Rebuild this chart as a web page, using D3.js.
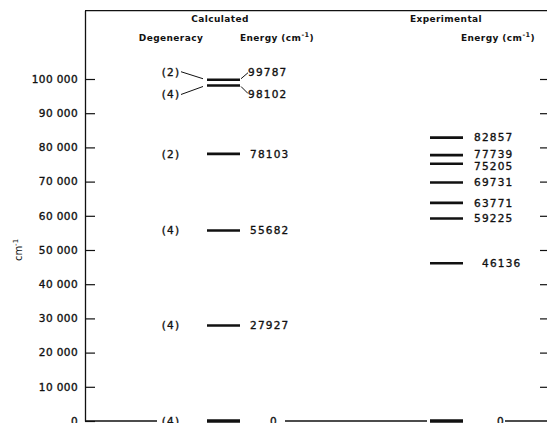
<!DOCTYPE html>
<html>
<head>
<script src="https://d3js.org/d3.v7.min.js"></script>
<style>
  body { margin: 0; background: #fff; }
  svg text { font-family: "DejaVu Sans", sans-serif; fill: #111; }
  .head { font-size: 9px; font-weight: bold; letter-spacing: 0.4px; }
  .num { font-size: 10.5px; letter-spacing: 1.2px; stroke: #111; stroke-width: 0.35px; }
  .tick text { font-size: 10.5px; letter-spacing: 0.4px; stroke: #111; stroke-width: 0.35px; }
</style>
</head>
<body>
<svg id="chart" width="547" height="423"></svg>
<script>
// levels (cm^-1)
var tickValues = [0, 10000, 20000, 30000, 40000, 50000, 60000, 70000, 80000, 90000, 100000];
var calcEnergy = [0, 27927, 55682, 78103, 98102, 99787];
var calcDegeneracy = ["(4)", "(4)", "(4)", "(2)", "(4)", "(2)"];
var expEnergy = [0, 46136, 59225, 63771, 69731, 75205, 77739, 82857];

var width = 547, height = 423;
var svg = d3.select("#chart");

var y = d3.scaleLinear().domain([0, 120000]).range([421, 10.6]);
var axisX = 85;
var col = { deg: 171, calc: 207, exp: 430 };
var barW = 33;

var fmt = d3.formatLocale({ decimal: ".", thousands: " ", grouping: [3], currency: ["", ""] }).format(",d");

// left axis, ticks pointing inward
var left = svg.append("g")
    .attr("transform", "translate(" + axisX + ",0)")
    .call(d3.axisLeft(y).tickValues(tickValues).tickSize(-10).tickPadding(7).tickSizeOuter(0).tickFormat(fmt));
left.select(".domain").attr("stroke", "#111").attr("stroke-width", 1.3);
left.selectAll(".tick line").attr("stroke", "#111").attr("stroke-width", 1.2);
left.selectAll(".tick text").attr("fill", "#111");

// right side ticks
var right = svg.append("g")
    .attr("transform", "translate(" + width + ",0)")
    .call(d3.axisLeft(y).tickValues(tickValues.filter(function (d) { return d > 0; })).tickSize(7).tickFormat(""));
right.select(".domain").remove();
right.selectAll(".tick line").attr("stroke", "#111").attr("stroke-width", 1.2);

// frame top
svg.append("line")
    .attr("x1", axisX).attr("x2", width)
    .attr("y1", y(120000)).attr("y2", y(120000))
    .attr("stroke", "#111").attr("stroke-width", 1.3);

// broken baseline at zero
var y0 = y(0);
[[axisX, col.deg - 14], [col.calc + barW + 45, col.exp - 3], [col.exp + barW + 42, width]].forEach(function (s) {
    svg.append("line")
        .attr("x1", s[0]).attr("x2", s[1]).attr("y1", y0).attr("y2", y0)
        .attr("stroke", "#111").attr("stroke-width", 1.3);
});

// y label
svg.append("text")
    .attr("transform", "translate(22," + y(50000) + ") rotate(-90)")
    .attr("text-anchor", "middle")
    .style("font-size", "10px")
    .html("cm<tspan dy='-4' font-size='7'>-1</tspan>");

// headers
function header(x, yy, anchor, txt, sup) {
    var t = svg.append("text").attr("class", "head")
        .attr("x", x).attr("y", yy).attr("text-anchor", anchor).text(txt);
    if (sup) {
        t.append("tspan").text("(cm");
        t.append("tspan").attr("dy", -4).style("font-size", "6.5px").text("-1");
        t.append("tspan").attr("dy", 4).text(")");
    }
}
header(220, 22, "middle", "Calculated");
header(171, 41, "middle", "Degeneracy");
header(240, 41, "start", "Energy ", true);
header(446, 22, "middle", "Experimental");
header(461, 41, "start", "Energy ", true);

// label offsets for the crowded top pair / experimental cluster
var calcShift = { 99787: -8, 98102: 9 };
var expShift = { 77739: -1, 75205: 2 };

// calculated levels
var calc = svg.append("g");
calc.selectAll("line.level").data(calcEnergy).enter().append("line")
    .attr("class", "level")
    .attr("x1", col.calc).attr("x2", col.calc + barW)
    .attr("y1", function (d) { return y(d); }).attr("y2", function (d) { return y(d); })
    .attr("stroke", "#111").attr("stroke-width", function (d) { return d === 0 ? 3.5 : 2.6; });

calc.selectAll("text.e").data(calcEnergy).enter().append("text")
    .attr("class", "num e")
    .attr("x", function (d) { return d === 0 ? col.calc + barW + 30 : col.calc + barW + (calcShift[d] ? 8 : 10); })
    .attr("y", function (d) { return y(d) + (calcShift[d] || 0); })
    .attr("dy", "0.36em")
    .text(function (d) { return d; });

calc.selectAll("text.g").data(calcEnergy).enter().append("text")
    .attr("class", "num g")
    .attr("x", col.deg)
    .attr("text-anchor", "middle")
    .attr("y", function (d) { return y(d) + (calcShift[d] || 0); })
    .attr("dy", "0.36em")
    .text(function (d, i) { return calcDegeneracy[i]; });

// leader lines for the close pair
calcEnergy.filter(function (d) { return calcShift[d]; }).forEach(function (d) {
    var ly = y(d) + calcShift[d];
    svg.append("line")
        .attr("x1", col.deg + 10).attr("y1", ly)
        .attr("x2", col.calc - 4).attr("y2", y(d) + (calcShift[d] < 0 ? -1 : 1))
        .attr("stroke", "#111").attr("stroke-width", 1);
    svg.append("line")
        .attr("x1", col.calc + barW + 1).attr("y1", y(d) + (calcShift[d] < 0 ? -1 : 1))
        .attr("x2", col.calc + barW + 8).attr("y2", ly + (calcShift[d] < 0 ? 1 : -1))
        .attr("stroke", "#111").attr("stroke-width", 1);
});

// experimental levels
var exp = svg.append("g");
exp.selectAll("line.level").data(expEnergy).enter().append("line")
    .attr("class", "level")
    .attr("x1", col.exp).attr("x2", col.exp + barW)
    .attr("y1", function (d) { return y(d); }).attr("y2", function (d) { return y(d); })
    .attr("stroke", "#111").attr("stroke-width", function (d) { return d === 0 ? 3.5 : 2.6; });

exp.selectAll("text.e").data(expEnergy).enter().append("text")
    .attr("class", "num e")
    .attr("x", function (d) { return d === 0 ? col.exp + barW + 34 : col.exp + barW + (d === 46136 ? 19 : 11); })
    .attr("y", function (d) { return y(d) + (expShift[d] || 0); })
    .attr("dy", "0.36em")
    .text(function (d) { return d; });
</script>
</body>
</html>
